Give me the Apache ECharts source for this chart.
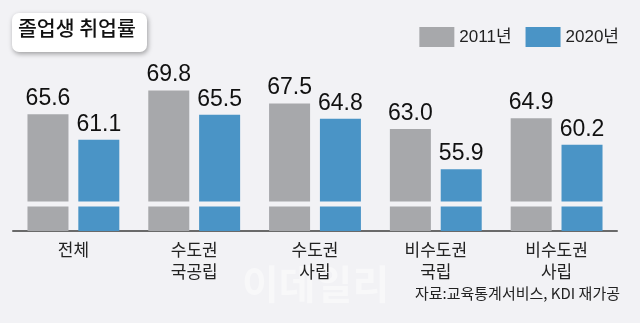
<!DOCTYPE html>
<html>
<head>
<meta charset="utf-8">
<script src="https://cdn.jsdelivr.net/npm/echarts@6/dist/echarts.min.js"></script>
<style>
html,body{margin:0;padding:0;background:#f2f2f5;}
#chart{width:640px;height:323px;}
</style>
</head>
<body>
<div id="chart"></div>
<script>
const categories = ['전체', '수도권\n국공립', '수도권\n사립', '비수도권\n국립', '비수도권\n사립'];
const seriesNames = ['2011년', '2020년'];
const rate2011 = [65.6, 69.8, 67.5, 63.0, 64.9];
const rate2020 = [61.1, 65.5, 64.8, 55.9, 60.2];
const titleText = '졸업생 취업률';
const sourceText = '자료:교육통계서비스, KDI 재가공';
const watermarkText = '이데일리';

const BG = '#f2f2f5';
const GRAY = '#a7a8ab';
const BLUE = '#4a94c6';
const NUM_FONT = "'Liberation Sans Narrow', 'Liberation Sans', 'Noto Sans CJK KR', sans-serif";
const KR_FONT = "'Noto Sans CJK KR', sans-serif";

const chart = echarts.init(document.getElementById('chart'), null, {renderer: 'canvas'});

function makeSeries(name, data, color) {
  return {
    name: name,
    type: 'bar',
    data: data,
    barWidth: 41,
    barGap: '24%',
    itemStyle: {color: color},
    label: {
      show: true,
      position: 'top',
      distance: 4,
      formatter: p => p.value.toFixed(1),
      fontFamily: NUM_FONT,
      fontSize: 23,
      color: '#111'
    },
    silent: true
  };
}

chart.setOption({
  backgroundColor: BG,
  animation: false,
  grid: {left: 13, right: 23, top: 61, bottom: 92, containLabel: false},
  legend: {
    right: 16,
    top: 22,
    itemWidth: 35,
    itemHeight: 20,
    itemGap: 14,
    icon: 'rect',
    textStyle: {fontFamily: NUM_FONT, fontSize: 17, color: '#222'},
    data: seriesNames
  },
  xAxis: {
    type: 'category',
    data: categories,
    axisLine: {lineStyle: {color: '#6a6a6a', width: 2}},
    axisTick: {show: false},
    axisLabel: {
      margin: 8,
      fontFamily: KR_FONT,
      fontSize: 17,
      lineHeight: 22,
      color: '#222'
    }
  },
  yAxis: {
    type: 'value',
    min: 0,
    max: 75,
    axisLine: {show: false},
    axisTick: {show: false},
    axisLabel: {show: false},
    splitLine: {show: false},
    breaks: [{start: 4.4, end: 50.3, gap: 0.9}],
    breakArea: {
      show: true,
      zigzagAmplitude: 0,
      zigzagMinSpan: 4,
      zigzagMaxSpan: 20,
      itemStyle: {color: BG, borderColor: BG, borderWidth: 0, opacity: 1},
      expandOnClick: false
    }
  },
  series: [
    makeSeries(seriesNames[0], rate2011, GRAY),
    makeSeries(seriesNames[1], rate2020, BLUE)
  ],
  graphic: [
    {
      type: 'text',
      left: 242, top: 264,
      style: {text: watermarkText, fontFamily: KR_FONT, fontSize: 40, fontWeight: 'bold', fill: 'rgba(255,255,255,0.45)'},
      z: -10
    },
    {
      type: 'rect',
      left: 12, top: 13,
      shape: {width: 135, height: 39, r: 7},
      style: {fill: '#fff', shadowBlur: 5, shadowColor: 'rgba(0,0,0,0.35)', shadowOffsetX: 1, shadowOffsetY: 2},
      z: 10
    },
    {
      type: 'text',
      left: 18, top: 18,
      style: {text: titleText, fontFamily: KR_FONT, fontSize: 20.5, fontWeight: 500, fill: '#111'},
      z: 11
    },
    {
      type: 'text',
      right: 20, top: 286,
      style: {text: sourceText, fontFamily: KR_FONT, fontSize: 15, fill: '#222'},
      z: 11
    }
  ]
});
</script>
</body>
</html>
